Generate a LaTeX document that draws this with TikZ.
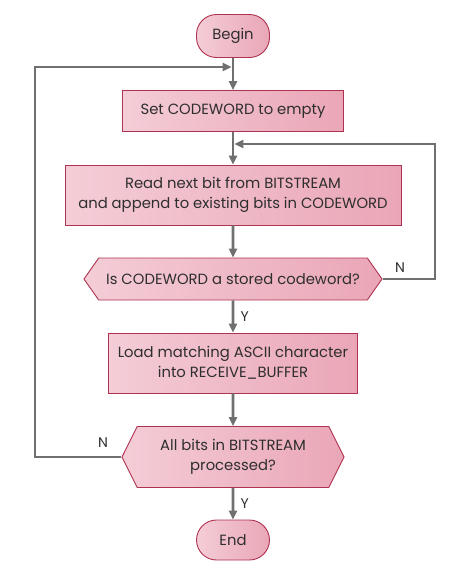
\documentclass[tikz,border=0pt]{standalone}
\usepackage{fontspec}
\setmainfont{Poppins}
\usetikzlibrary{shapes.symbols, arrows.meta, positioning}
\definecolor{EdgeCrimson}{HTML}{AE3350}
\definecolor{PinkDeep}{HTML}{EAA6B7}
\definecolor{PinkPale}{HTML}{F4CDD7}
\definecolor{FlowGray}{HTML}{707070}
\definecolor{InkGray}{HTML}{2E2E2E}

\tikzset{
  stepbox/.style={draw=EdgeCrimson, line width=0.9pt, left color=PinkPale, right color=PinkDeep,
                  text=InkGray, align=center, inner sep=2pt},
  termbox/.style={stepbox, rounded corners=20pt},
  testbox/.style={stepbox, shape=signal, signal to=west and east},
  flow/.style={draw=FlowGray, line width=2.8pt, -{Triangle[length=9pt,width=8pt]}},
  tag/.style={text=InkGray, font=\fontsize{14}{16}\selectfont}
}

\begin{document}
\begin{tikzpicture}[x=1pt, y=-1pt, font=\fontsize{14.8}{20}\selectfont]
  \useasboundingbox (0,0) rectangle (466,573);

  \node[termbox, minimum width=73pt, minimum height=43pt] (begin) at (233,36) {Begin};
  \node[stepbox, minimum width=221pt, minimum height=41pt] (setcw) at (233,111) {Set CODEWORD to empty};
  \node[stepbox, minimum width=336pt, minimum height=60pt] (readbit) at (233,195)
       {Read next bit from BITSTREAM\\and append to existing bits in CODEWORD};
  \node[testbox, minimum width=298pt, minimum height=42pt, signal pointer angle=110] (stored) at (233,279)
       {Is CODEWORD a stored codeword?};
  \node[stepbox, minimum width=249pt, minimum height=60pt] (loadchar) at (233,363)
       {Load matching ASCII character\\into RECEIVE\_BUFFER};
  \node[testbox, minimum width=222pt, minimum height=61pt, signal pointer angle=127] (allbits) at (233,457)
       {All bits in BITSTREAM\\processed?};
  \node[termbox, minimum width=73pt, minimum height=40pt] (finish) at (233,540) {End};

  % loop joins
  \coordinate (joinA) at (233,67);
  \coordinate (leftcorner) at (35,67);
  \coordinate (joinB) at (233,144);
  \coordinate (rightcorner) at (435,144);

  \draw[flow] (begin) -- (setcw);
  \draw[flow] (setcw) -- (readbit);
  \draw[flow] (readbit) -- (stored);
  \draw[flow] (stored) -- node[tag, right=3pt] {Y} (loadchar);
  \draw[flow] (loadchar) -- (allbits);
  \draw[flow] (allbits) -- node[tag, right=3pt] {Y} (finish);

  \draw[flow, shorten >=1.4pt] (stored.east) -| (rightcorner) -- (joinB);
  \draw[flow, shorten >=1.4pt] (allbits.west) -| (leftcorner) -- (joinA);
  \node[tag] (nostored) at (400,268) {N};
  \node[tag] (noall) at (103,443) {N};
\end{tikzpicture}
\end{document}
